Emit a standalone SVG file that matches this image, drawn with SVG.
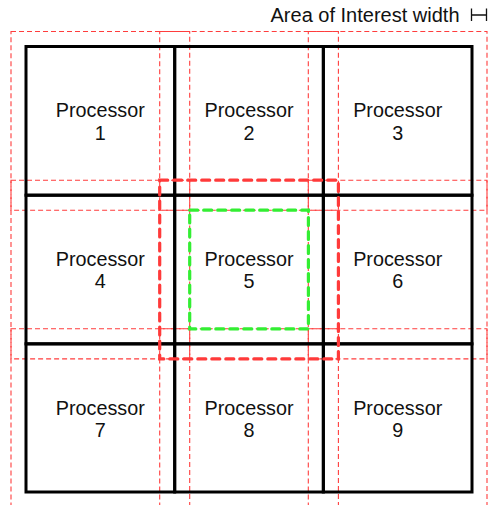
<svg xmlns="http://www.w3.org/2000/svg" width="489" height="505" viewBox="0 0 489 505">
<style>
.bg{fill:#ffffff}
.cell{fill:none;stroke:#000000;stroke-width:3}
.aoi{fill:none;stroke:#ff3d3d;stroke-width:1.1;stroke-dasharray:5 3}
.aoi-hl{fill:none;stroke:#ff3a3a;stroke-width:3.2;stroke-dasharray:8 6;stroke-linecap:round}
.inner{fill:none;stroke:#33ee33;stroke-width:3.2;stroke-dasharray:8 6;stroke-linecap:round}
.lbl{font-family:"Liberation Sans",Arial,Helvetica,sans-serif;font-size:19.8px;fill:#111111;text-anchor:middle}
.title{font-family:"Liberation Sans",Arial,Helvetica,sans-serif;font-size:20px;fill:#111111;text-anchor:end}
.sym{fill:none;stroke:#111111;stroke-width:1.3}
</style>
<rect class="bg" x="0" y="0" width="489" height="505"/>
<g id="legend">
<text class="title" x="459.5" y="21.5">Area of Interest width</text>
<path class="sym" d="M471.5 8.5 V21 M471.5 15 H486.5 M486.5 8.5 V21"/>
</g>
<g id="areas-of-interest">
<rect class="aoi" x="11" y="31.5" width="178.7" height="178.7"/>
<rect class="aoi" x="159.7" y="31.5" width="178.7" height="178.7"/>
<rect class="aoi" x="308.3" y="31.5" width="178.7" height="178.7"/>
<rect class="aoi" x="11" y="180.2" width="178.7" height="178.7"/>
<rect class="aoi" x="308.3" y="180.2" width="178.7" height="178.7"/>
<rect class="aoi" x="11" y="328.8" width="178.7" height="178.7"/>
<rect class="aoi" x="159.7" y="328.8" width="178.7" height="178.7"/>
<rect class="aoi" x="308.3" y="328.8" width="178.7" height="178.7"/>
</g>
<g id="p1"><rect class="cell" x="26" y="46.5" width="148.7" height="148.7"/><text class="lbl" x="100.3" y="117.3">Processor</text><text class="lbl" x="100.3" y="139.5">1</text></g>
<g id="p2"><rect class="cell" x="174.7" y="46.5" width="148.7" height="148.7"/><text class="lbl" x="249" y="117.3">Processor</text><text class="lbl" x="249" y="139.5">2</text></g>
<g id="p3"><rect class="cell" x="323.3" y="46.5" width="148.7" height="148.7"/><text class="lbl" x="397.7" y="117.3">Processor</text><text class="lbl" x="397.7" y="139.5">3</text></g>
<g id="p4"><rect class="cell" x="26" y="195.2" width="148.7" height="148.7"/><text class="lbl" x="100.3" y="266">Processor</text><text class="lbl" x="100.3" y="288.2">4</text></g>
<g id="p5"><rect class="cell" x="174.7" y="195.2" width="148.7" height="148.7"/><text class="lbl" x="249" y="266">Processor</text><text class="lbl" x="249" y="288.2">5</text></g>
<g id="p6"><rect class="cell" x="323.3" y="195.2" width="148.7" height="148.7"/><text class="lbl" x="397.7" y="266">Processor</text><text class="lbl" x="397.7" y="288.2">6</text></g>
<g id="p7"><rect class="cell" x="26" y="343.8" width="148.7" height="148.2"/><text class="lbl" x="100.3" y="414.6">Processor</text><text class="lbl" x="100.3" y="436.8">7</text></g>
<g id="p8"><rect class="cell" x="174.7" y="343.8" width="148.7" height="148.2"/><text class="lbl" x="249" y="414.6">Processor</text><text class="lbl" x="249" y="436.8">8</text></g>
<g id="p9"><rect class="cell" x="323.3" y="343.8" width="148.7" height="148.2"/><text class="lbl" x="397.7" y="414.6">Processor</text><text class="lbl" x="397.7" y="436.8">9</text></g>
<g id="p5-area-of-interest"><rect class="aoi-hl" x="159.7" y="180.2" width="178.7" height="178.7"/></g>
<g id="p5-inner-region"><rect class="inner" x="189.7" y="210.2" width="118.7" height="118.7"/></g>
</svg>
